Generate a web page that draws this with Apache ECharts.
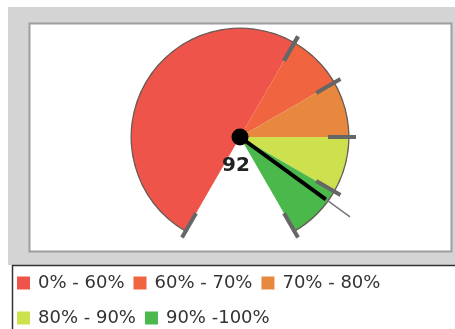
<!DOCTYPE html>
<html><head><meta charset="utf-8">
<script src="https://cdn.jsdelivr.net/npm/echarts@6/dist/echarts.min.js"></script>
<style>html,body{margin:0;padding:0;background:#fff}#c{width:455px;height:329px}</style>
</head><body><div id="c"></div>
<script>
const bandNames = ['0% - 60%', '60% - 70%', '70% - 80%', '80% - 90%', '90% -100%'];
const bandSizes = [60, 10, 10, 10, 10];
const bandColors = ['#ee5449', '#f0653f', '#e8883f', '#cde04e', '#4ab84b'];
const tickGroupA = [0, 60];   // min/max of first tick gauge
const tickGroupB = [60, 100]; // min/max of second tick gauge
const gaugeValue = 92;

const CX = 240, CY = 137, R = 109;
const FONT = 'DejaVu Sans';

function tickGauge(range, startA, endA, splits) {
  return {
    type: 'gauge', silent: true, center: [CX, CY], radius: 116,
    min: range[0], max: range[1], startAngle: startA, endAngle: endA, splitNumber: splits,
    axisLine: { show: false, lineStyle: { width: 0 } },
    axisTick: { show: false }, axisLabel: { show: false },
    splitLine: { show: true, length: 28, distance: 0, lineStyle: { color: '#666', width: 4 } },
    pointer: { show: false }, anchor: { show: false }, title: { show: false }, detail: { show: false },
    data: [], z: 5
  };
}

const chart = echarts.init(document.getElementById('c'), null, { renderer: 'canvas' });
chart.setOption({
  animation: false,
  graphic: { elements: [
    { type: 'rect', z: -10, shape: { x: 8, y: 7, width: 447, height: 258 }, style: { fill: '#d4d4d4' } },
    { type: 'rect', z: -9, shape: { x: 29.5, y: 23.5, width: 422, height: 228 }, style: { fill: '#ffffff', stroke: '#9e9e9e', lineWidth: 2 } },
    { type: 'rect', z: -9, shape: { x: 12.5, y: 265.5, width: 450, height: 70 }, style: { fill: '#ffffff', stroke: '#333', lineWidth: 1.5 } }
  ] },
  legend: {
    left: 17, top: 270, width: 380, padding: 0, itemGap: 9,
    itemWidth: 13, itemHeight: 13, icon: 'rect',
    textStyle: { fontFamily: FONT, fontSize: 18, color: '#333', lineHeight: 26, padding: [0, 0, 0, 3] },
    data: bandNames
  },
  series: [
    {
      type: 'pie', silent: true, center: [CX, CY], radius: R,
      startAngle: 240, endAngle: -60, clockwise: true,
      label: { show: false }, labelLine: { show: false },
      itemStyle: { borderWidth: 0 },
      data: bandNames.map((n, i) => ({ name: n, value: bandSizes[i], itemStyle: { color: bandColors[i] } })),
      z: 2
    },
    {
      type: 'gauge', silent: true, center: [CX, CY], radius: R + 0.5,
      min: 0, max: 100, startAngle: 240, endAngle: -60,
      axisLine: { show: true, lineStyle: { width: 1.3, color: [[1, '#6a5d58']] } },
      axisTick: { show: false }, axisLabel: { show: false }, splitLine: { show: false },
      pointer: { show: false }, anchor: { show: false }, title: { show: false }, detail: { show: false },
      data: [], z: 4
    },
    tickGauge(tickGroupA, 240, 60, 1),
    tickGauge(tickGroupB, 60, -60, 4),
    {
      type: 'gauge', silent: true, center: [CX, CY], radius: R,
      min: 0, max: 100, startAngle: 240, endAngle: -60,
      axisLine: { show: false, lineStyle: { width: 0 } },
      axisTick: { show: false }, axisLabel: { show: false }, splitLine: { show: false },
      pointer: { show: true, icon: 'rect', length: 136, width: 1.5, itemStyle: { color: '#777' } },
      anchor: { show: false }, title: { show: false }, detail: { show: false },
      data: [{ value: gaugeValue }], z: 6
    },
    {
      type: 'gauge', silent: true, center: [CX, CY], radius: R,
      min: 0, max: 100, startAngle: 240, endAngle: -60,
      axisLine: { show: false, lineStyle: { width: 0 } },
      axisTick: { show: false }, axisLabel: { show: false }, splitLine: { show: false },
      pointer: { show: true, icon: 'rect', length: 106, width: 4, itemStyle: { color: '#000' } },
      anchor: { show: true, showAbove: true, size: 17, itemStyle: { color: '#000' } },
      title: { show: false },
      detail: { show: true, offsetCenter: [-4, 29], fontFamily: FONT, fontSize: 20, fontWeight: 'bold', color: '#222', formatter: '{value}' },
      data: [{ value: gaugeValue }], z: 7
    }
  ]
});
</script></body></html>
